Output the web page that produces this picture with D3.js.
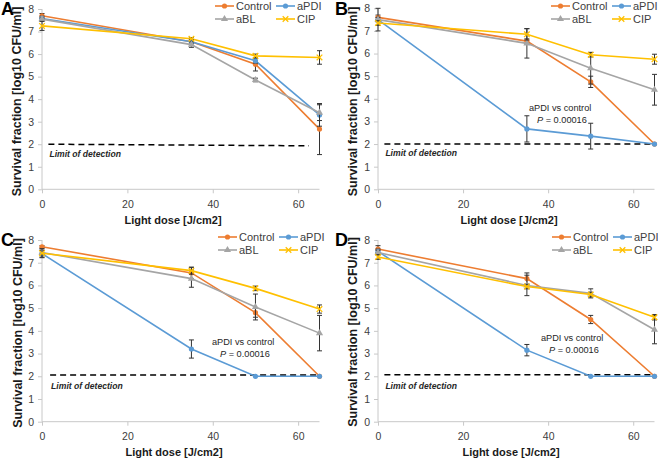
<!DOCTYPE html>
<html><head><meta charset="utf-8">
<script src="https://cdn.jsdelivr.net/npm/d3@7"></script>
<style>body{margin:0;background:#fff}svg{display:block}text{font-family:"Liberation Sans",Arial,sans-serif}</style>
</head><body>
<svg id="chart" width="658" height="459"></svg>
<script>
// ---- data ----
const doses = [0, 35, 50, 65];
const seriesNames = ["Control", "aPDI", "aBL", "CIP"];
const colors = ["#ED7D31", "#5B9BD5", "#A5A5A5", "#FFC000"];
const yTicks = [0, 1, 2, 3, 4, 5, 6, 7, 8];
const xTicks = [0, 20, 40, 60];
const panelLetters = ["A", "B", "C", "D"];
// values per panel: rows = Control, aPDI, aBL, CIP
const valuesA = [[7.70, 6.55, 5.55, 2.67], [7.58, 6.55, 5.70, 3.30], [7.55, 6.42, 4.85, 3.40], [7.25, 6.68, 5.92, 5.85]];
const errorsA = [[0.10, 0.10, 0.30, 1.13], [0.10, 0.08, 0.10, 0.50], [0.05, 0.12, 0.08, 0.35], [0.20, 0.05, 0.08, 0.30]];
const valuesB = [[7.60, 6.55, 4.75, 2.00], [7.50, 2.67, 2.35, 2.00], [7.50, 6.45, 5.35, 4.40], [7.35, 6.85, 5.95, 5.75]];
const errorsB = [[0.10, 0.10, 0.25, 0.00], [0.50, 0.58, 0.57, 0.00], [0.10, 0.65, 0.70, 0.68], [0.10, 0.25, 0.10, 0.22]];
const valuesC = [[7.70, 6.55, 4.80, 2.00], [7.40, 3.20, 2.00, 2.00], [7.45, 6.30, 5.05, 3.90], [7.42, 6.65, 5.87, 4.96]];
const errorsC = [[0.05, 0.25, 0.20, 0.00], [0.15, 0.40, 0.00, 0.00], [0.10, 0.38, 0.57, 0.78], [0.20, 0.15, 0.10, 0.18]];
const valuesD = [[7.60, 6.30, 4.50, 2.00], [7.50, 3.15, 2.00, 2.00], [7.45, 6.00, 5.65, 4.05], [7.25, 5.95, 5.60, 4.60]];
const errorsD = [[0.15, 0.25, 0.18, 0.00], [0.10, 0.25, 0.00, 0.00], [0.10, 0.45, 0.20, 0.62], [0.10, 0.10, 0.10, 0.12]];
// limit of detection line endpoints [x1, x2], [y1, y2]
const limitXA = [1.5, 62.5], limitYA = [2.0, 1.93];
const limitXB = [1.5, 65], limitYB = [2.0, 2.0];
const limitXC = [1.9, 64.5], limitYC = [2.06, 2.06];
const limitXD = [1.5, 65], limitYD = [2.07, 2.07];
const annotation1 = "aPDI vs control";
const annotation2 = "P = 0.00016";

// ---- layout ----
const panels = [
  {letter: panelLetters[0], vals: valuesA, errs: errorsA, lx: limitXA, ly: limitYA, left: 42, right: 319.5, top: 9, bottom: 189.3, annot: false, ytX: 21, ytY: 101.5, xtX: 173, xtY: 224, letX: 1, letY: 15, legX: 173, legY: 6},
  {letter: panelLetters[1], vals: valuesB, errs: errorsB, lx: limitXB, ly: limitYB, left: 378, right: 654.5, top: 8.3, bottom: 189.3, annot: true, annX: 529, annY: 111, ytX: 357, ytY: 101.5, xtX: 509, xtY: 224, letX: 335, letY: 15, legX: 173, legY: 6},
  {letter: panelLetters[2], vals: valuesC, errs: errorsC, lx: limitXC, ly: limitYC, left: 42, right: 319.5, top: 240, bottom: 421.7, annot: true, annX: 212, annY: 345, ytX: 22, ytY: 333, xtX: 174, xtY: 456, letX: 1, letY: 246, legX: 176, legY: 237},
  {letter: panelLetters[3], vals: valuesD, errs: errorsD, lx: limitXD, ly: limitYD, left: 378, right: 654.5, top: 240, bottom: 421.7, annot: true, annX: 541, annY: 341, ytX: 357, ytY: 332, xtX: 511, xtY: 456, letX: 335, letY: 246, legX: 174, legY: 237}
];

const svg = d3.select("#chart");

function marker(g, i, cx, cy) {
  const c = colors[i];
  if (i === 0 || i === 1) {
    g.append("circle").attr("cx", cx).attr("cy", cy).attr("r", 2.6).attr("fill", c);
  } else if (i === 2) {
    g.append("path").attr("d", d3.symbol().type(d3.symbolTriangle).size(22)()).attr("transform", `translate(${cx},${cy})`).attr("fill", c);
  } else {
    const s = 2.8;
    g.append("path").attr("d", `M${cx - s},${cy - s}L${cx + s},${cy + s}M${cx - s},${cy + s}L${cx + s},${cy - s}`).attr("stroke", c).attr("stroke-width", 1.3);
  }
}

panels.forEach(p => {
  const g = svg.append("g");
  const x = d3.scaleLinear().domain([0, 65]).range([p.left, p.right]);
  const y = d3.scaleLinear().domain([0, 8]).range([p.bottom, p.top]);

  // axes
  const yAxis = d3.axisLeft(y).tickValues(yTicks).tickSize(4).tickPadding(4).tickFormat(d3.format("d"));
  const ya = g.append("g").attr("transform", `translate(${p.left},0)`).call(yAxis);
  const xAxis = d3.axisBottom(x).tickValues(xTicks).tickSize(4).tickPadding(7).tickFormat(d3.format("d"));
  const xa = g.append("g").attr("transform", `translate(0,${p.bottom})`).call(xAxis);
  [ya, xa].forEach(a => {
    a.select(".domain").attr("stroke", "#c8c8c8").attr("stroke-width", 1);
    a.selectAll(".tick line").attr("stroke", "#c8c8c8");
    a.selectAll(".tick text").attr("fill", "#404040").style("font-size", "10.5px").style("font-family", "Liberation Sans, Arial, sans-serif");
  });
  xa.select(".domain").attr("d", `M${p.left},0H${p.right}`);
  ya.select(".domain").attr("d", `M0,${p.bottom}V${p.top}`);

  // limit of detection
  g.append("line").attr("x1", x(p.lx[0])).attr("x2", x(p.lx[1])).attr("y1", y(p.ly[0])).attr("y2", y(p.ly[1]))
    .attr("stroke", "#000").attr("stroke-width", 1.5).attr("stroke-dasharray", "6,4");
  g.append("text").attr("x", x(p.lx[0]) + 1).attr("y", y(1.45)).text("Limit of detection")
    .style("font-size", "8.6px").style("font-weight", "bold").style("font-style", "italic").attr("fill", "#262626");

  // series
  seriesNames.forEach((name, i) => {
    const vals = p.vals[i], errs = p.errs[i];
    const line = d3.line().x((d, j) => x(doses[j])).y(d => y(d));
    g.append("path").attr("d", line(vals)).attr("fill", "none").attr("stroke", colors[i]).attr("stroke-width", 1.6);
    vals.forEach((v, j) => {
      if (errs[j] > 0) {
        const cx = x(doses[j]), y1 = y(v - errs[j]), y2 = y(v + errs[j]);
        g.append("path").attr("d", `M${cx},${y1}V${y2}M${cx - 2.5},${y1}H${cx + 2.5}M${cx - 2.5},${y2}H${cx + 2.5}`)
          .attr("stroke", "#333").attr("stroke-width", 1).attr("fill", "none");
      }
    });
    vals.forEach((v, j) => marker(g, i, x(doses[j]), y(v)));
  });

  // legend
  seriesNames.forEach((name, i) => {
    const col = i % 2, row = Math.floor(i / 2);
    const lx = p.left + p.legX + col * 61;
    const ly = p.legY + row * 13;
    g.append("line").attr("x1", lx).attr("x2", lx + 19).attr("y1", ly).attr("y2", ly).attr("stroke", colors[i]).attr("stroke-width", 1.6);
    marker(g, i, lx + 9.5, ly);
    g.append("text").attr("x", lx + 21).attr("y", ly + 4).text(name).style("font-size", "11px").attr("fill", "#404040");
  });

  // annotation
  if (p.annot) {
    g.append("text").attr("x", p.annX).attr("y", p.annY).text(annotation1).style("font-size", "9.2px").attr("fill", "#262626");
    const t = g.append("text").attr("x", p.annX + 8).attr("y", p.annY + 12).style("font-size", "9.2px").attr("fill", "#262626");
    t.append("tspan").style("font-style", "italic").text(annotation2.slice(0, 1));
    t.append("tspan").text(annotation2.slice(1));
  }

  // titles
  g.append("text").attr("transform", `translate(${p.ytX},${p.ytY}) rotate(-90)`).attr("text-anchor", "middle")
    .text("Survival fraction [log10 CFU/ml]").style("font-size", "12.5px").style("font-weight", "bold").attr("fill", "#1a1a1a");
  g.append("text").attr("x", p.xtX).attr("y", p.xtY).attr("text-anchor", "middle")
    .text("Light dose [J/cm2]").style("font-size", "11px").style("font-weight", "bold").attr("fill", "#1a1a1a");
  g.append("text").attr("x", p.letX).attr("y", p.letY).text(p.letter).style("font-size", "18px").style("font-weight", "bold").attr("fill", "#000");
});
</script>
</body></html>
